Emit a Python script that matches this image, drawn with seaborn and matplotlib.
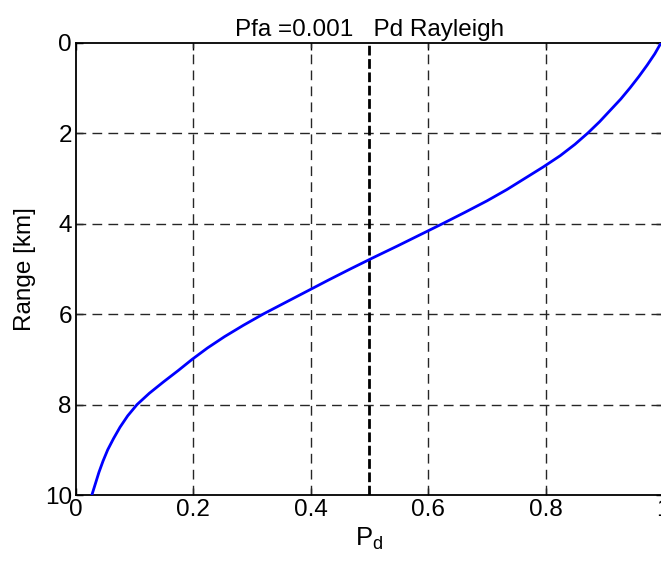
import numpy as np
import pandas as pd
import matplotlib
matplotlib.use("Agg")
import matplotlib.pyplot as plt
import seaborn as sns

# values (range in km -> probability of detection)
range_km = [0.0, 0.25, 0.5, 0.75, 1.0, 1.25, 1.5, 1.75, 2.0, 2.25, 2.5, 2.75,
            3.0, 3.25, 3.5, 3.75, 4.0, 4.25, 4.5, 4.75, 5.0, 5.25, 5.5, 5.75,
            6.0, 6.25, 6.5, 6.75, 7.0, 7.25, 7.5, 7.75, 8.0, 8.25, 8.5, 8.75,
            9.0, 9.25, 9.5, 9.75, 10.0]
pd_rayleigh = [0.997, 0.986, 0.973, 0.959, 0.944, 0.928, 0.910, 0.892, 0.872,
               0.850, 0.825, 0.796, 0.765, 0.734, 0.700, 0.663, 0.625, 0.586,
               0.547, 0.507, 0.468, 0.430, 0.393, 0.356, 0.319, 0.285, 0.253,
               0.224, 0.198, 0.174, 0.149, 0.125, 0.104, 0.088, 0.075, 0.064,
               0.054, 0.046, 0.039, 0.033, 0.027]
pd_threshold = 0.5
x_ticks = [0, 0.2, 0.4, 0.6, 0.8, 1]
x_labels = ["0", "0.2", "0.4", "0.6", "0.8", "1"]
y_ticks = [0, 2, 4, 6, 8, 10]

df = pd.DataFrame({"Pd": pd_rayleigh, "Range": range_km})

sns.set_style("ticks")
plt.rcParams['font.family'] = ['Liberation Sans', 'DejaVu Sans']
plt.rcParams['text.color'] = 'black'
plt.rcParams['axes.labelcolor'] = 'black'

fs = 17.5
fig = plt.figure(figsize=(6.61, 5.64), dpi=100)
ax = fig.add_axes([0.115, 0.1223, 0.888, 0.8023])

# dashed grid, matlab style
for xv in x_ticks[1:-1]:
    ax.axvline(xv, color="#262626", lw=1, ls=(0, (7, 4.5)), zorder=1)
for yv in y_ticks[1:-1]:
    ax.axhline(yv, color="#262626", lw=1, ls=(0, (7, 4.5)), zorder=1)

# threshold line
ax.axvline(pd_threshold, color="black", lw=2, ls=(0, (3.5, 1.3)), zorder=2)

sns.lineplot(data=df, x="Pd", y="Range", sort=False, estimator=None,
             color="#0000ff", lw=2, ax=ax, zorder=3)

ax.set_xlim(0, 1)
ax.set_ylim(10, 0)
ax.set_xticks(x_ticks)
ax.set_xticklabels(x_labels)
ax.set_yticks(y_ticks)
ax.tick_params(direction="in", length=5, width=1, top=True, right=True,
               labelsize=fs, colors="black", pad=3)
for s in ax.spines.values():
    s.set_linewidth(1.3)
    s.set_color("black")

ax.set_xlabel(r"P$_\mathregular{d}$", fontsize=fs + 1, labelpad=3, color="black")
ax.set_ylabel("Range [km]", fontsize=fs, labelpad=6, color="black")
ax.set_title("Pfa =0.001   Pd Rayleigh", fontsize=fs, pad=5, color="black")

fig.savefig("out.png", dpi=100)
